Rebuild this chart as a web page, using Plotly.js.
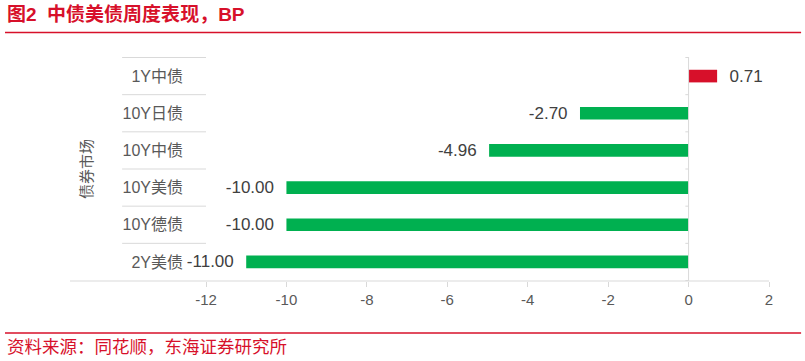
<!DOCTYPE html>
<html><head><meta charset="utf-8">
<script src="https://cdn.plot.ly/plotly-3.0.1.min.js"></script>
<style>html,body{margin:0;padding:0;background:#fff;}#chart{width:805px;height:361px;}</style>
</head><body><div id="chart"></div>
<script>
const categories = ["1Y中债", "10Y日债", "10Y中债", "10Y美债", "10Y德债", "2Y美债"];
const values = [0.71, -2.70, -4.96, -10.00, -10.00, -11.00];
const xTicks = [-12, -10, -8, -6, -4, -2, 0, 2];
const chartTitle = "图2  中债美债周度表现，BP";
const yTitle = "债券市场";
const sourceText = "资料来源：同花顺，东海证券研究所";

const RED = "#d7102a", GREEN = "#00b050", GRID = "#d9d9d9", TXT = "#595959";
const FONT = "Liberation Sans, Noto Sans CJK SC, sans-serif";
const SP = "\u00a0\u00a0";

const trace = {
  type: "bar", orientation: "h",
  y: categories, x: values,
  marker: {color: values.map(v => v >= 0 ? RED : GREEN)},
  width: 0.34,
  text: values.map(v => v >= 0 ? SP + v.toFixed(2) : v.toFixed(2) + SP),
  textposition: "outside",
  constraintext: "none",
  textfont: {size: 17, color: "#404040", family: FONT},
  cliponaxis: false,
  hoverinfo: "skip"
};

const shapes = [];
const n = categories.length;
for (let i = 0; i < n; i++) {
  shapes.push({type: "line", xref: "paper", yref: "y", x0: -0.149, x1: 0, y0: i - 0.5, y1: i - 0.5,
    line: {color: GRID, width: 1}});
}
shapes.push({type: "line", xref: "paper", yref: "paper", x0: -0.2416, x1: 1, y0: 0, y1: 0,
  line: {color: GRID, width: 1}});
shapes.push({type: "line", xref: "x", yref: "paper", x0: 0, x1: 0, y0: 0, y1: 1,
  line: {color: GRID, width: 1}});
for (let i = 0; i <= n; i++) {
  shapes.push({type: "line", xref: "x", yref: "y", x0: -0.08, x1: 0, y0: i - 0.5, y1: i - 0.5,
    line: {color: GRID, width: 1}});
}
shapes.push({type: "line", xref: "paper", yref: "paper", x0: -0.357, x1: 1.057, y0: 1.109, y1: 1.109,
  line: {color: RED, width: 1.5}});
shapes.push({type: "line", xref: "paper", yref: "paper", x0: -0.357, x1: 1.057, y0: -0.232, y1: -0.232,
  line: {color: RED, width: 1.5}});

const layout = {
  width: 805, height: 361,
  margin: {l: 206, r: 36, t: 57, b: 80},
  paper_bgcolor: "#fff", plot_bgcolor: "#fff",
  showlegend: false,
  font: {family: FONT, color: TXT},
  xaxis: {
    range: [-12, 2], tickvals: xTicks, ticktext: xTicks.map(String),
    showgrid: false, zeroline: false, showline: false,
    ticks: "outside", ticklen: 5, tickcolor: GRID,
    tickfont: {size: 15, color: TXT, family: FONT}, fixedrange: true
  },
  yaxis: {
    type: "category", autorange: "reversed",
    showgrid: false, zeroline: false, showline: false, ticks: "",
    ticklabelstandoff: 22,
    tickfont: {size: 16, color: TXT, family: FONT},
    title: {text: yTitle, standoff: 26, font: {size: 15, color: TXT, family: FONT}},
    fixedrange: true
  },
  shapes: shapes,
  annotations: [
    {xref: "paper", yref: "paper", x: -0.357, y: 1.19, xanchor: "left", yanchor: "middle", showarrow: false,
     text: "<b>" + chartTitle + "</b>", font: {size: 19, color: RED, family: FONT}},
    {xref: "paper", yref: "paper", x: -0.357, y: -0.293, xanchor: "left", yanchor: "middle", showarrow: false,
     text: sourceText, font: {size: 17.5, color: RED, family: FONT}}
  ]
};
Plotly.newPlot("chart", [trace], layout, {displayModeBar: false, staticPlot: true});
</script></body></html>
